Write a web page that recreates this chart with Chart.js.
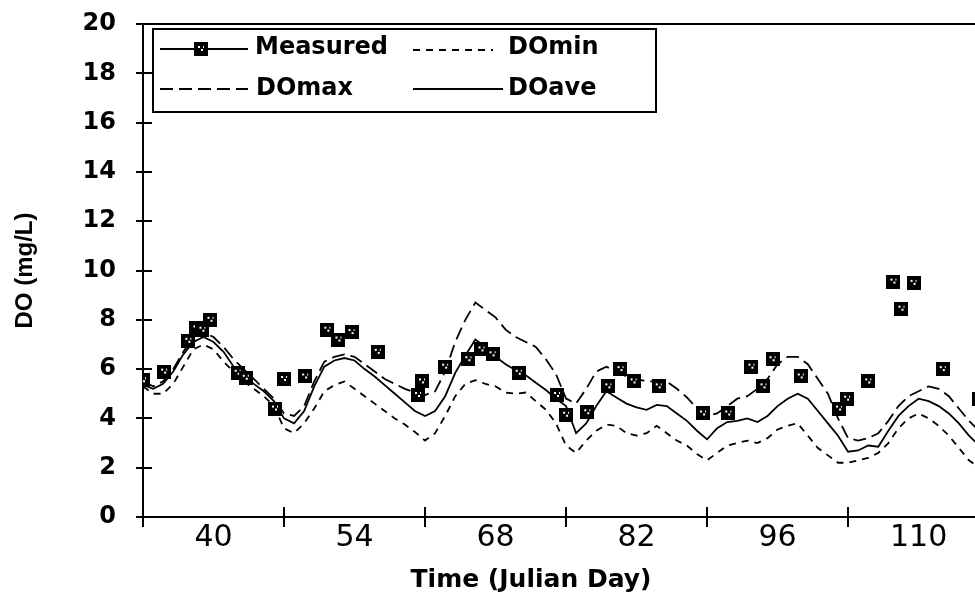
<!DOCTYPE html>
<html>
<head>
<meta charset="utf-8">
<script src="https://cdn.jsdelivr.net/npm/chart.js@4.4.1/dist/chart.umd.min.js"></script>
<style>
  html, body { margin: 0; padding: 0; background: #fff; }
  canvas { display: block; }
</style>
</head>
<body>
<canvas id="doChart" width="975" height="596"></canvas>
<script>
// Julian days of the simulated curves
const days = [33,34,35,36,37,38,39,40,41,42,43,44,45,46,47,48,49,50,51,52,53,54,55,56,57,58,59,60,
  61,62,63,64,65,66,67,68,69,70,71,72,73,74,75,76,77,78,79,80,81,82,83,84,85,86,87,88,89,90,
  91,92,93,94,95,96,97,98,99,100,101,102,103,104,105,106,107,108,109,110,111,112,113,114,115,116];

const doAve = [5.35,5.2,5.4,5.9,6.6,7.1,7.3,7.1,6.7,6.1,
  5.7,5.4,5.1,4.7,4.0,3.8,4.3,5.3,6.1,6.35,
  6.45,6.35,6.0,5.7,5.35,5.0,4.65,4.3,4.1,4.3,
  4.9,5.85,6.55,7.2,6.9,6.5,6.2,5.95,5.75,5.45,
  5.15,4.8,4.5,3.4,3.8,4.5,5.1,4.85,4.6,4.45,
  4.35,4.55,4.5,4.2,3.9,3.5,3.15,3.6,3.85,3.9,
  4.0,3.85,4.1,4.5,4.8,5.0,4.8,4.3,3.8,3.3,
  2.65,2.7,2.9,2.85,3.5,4.1,4.5,4.8,4.7,4.5,
  4.2,3.8,3.3,2.9];

const doMax = [5.5,5.3,5.5,6.0,6.7,7.3,7.5,7.3,6.9,6.4,
  6.0,5.6,5.2,4.8,4.2,4.1,4.5,5.5,6.3,6.5,
  6.6,6.5,6.2,5.9,5.6,5.4,5.2,5.05,4.95,5.1,
  5.9,7.1,8.0,8.7,8.4,8.1,7.6,7.3,7.1,6.9,
  6.4,5.8,4.8,4.6,5.2,5.9,6.1,5.9,5.7,5.6,
  5.5,5.5,5.5,5.2,4.85,4.4,4.1,4.2,4.5,4.8,
  4.9,5.2,5.6,6.2,6.5,6.5,6.2,5.6,5.0,4.0,
  3.2,3.1,3.2,3.4,3.9,4.5,4.9,5.1,5.3,5.2,
  4.9,4.4,3.9,3.5];

const doMin = [5.3,5.0,5.0,5.4,6.1,6.8,7.0,6.8,6.3,5.9,
  5.5,5.2,4.9,4.5,3.6,3.4,3.8,4.4,5.1,5.35,
  5.5,5.2,4.9,4.6,4.3,4.0,3.75,3.45,3.1,3.4,
  4.1,4.9,5.4,5.55,5.4,5.3,5.05,5.0,5.05,4.7,
  4.35,3.8,2.9,2.6,3.1,3.5,3.75,3.7,3.4,3.3,
  3.4,3.7,3.4,3.1,2.9,2.55,2.3,2.6,2.9,3.0,
  3.1,3.0,3.2,3.55,3.7,3.8,3.3,2.8,2.5,2.2,
  2.2,2.3,2.4,2.6,3.0,3.6,4.0,4.2,4.0,3.7,
  3.3,2.8,2.3,2.0];

// field measurements
const measuredDays = [33,35.1,37.5,38.3,38.9,39.7,42.4,43.2,46.1,47,49.1,51.3,52.4,53.7,56.3,
  60.3,60.7,63,65.3,66.6,67.7,70.3,74.1,75,77.1,79.2,80.4,81.7,84.2,88.6,91.1,93.4,94.6,
  95.5,98.3,102.1,102.9,105,107.5,108.3,109.5,112.4,116];
const measuredDO = [5.55,5.9,7.15,7.65,7.6,8.0,5.85,5.65,4.4,5.6,5.7,7.6,7.2,7.5,6.7,
  4.95,5.5,6.1,6.4,6.8,6.6,5.85,4.95,4.15,4.25,5.3,6.0,5.5,5.3,4.2,4.2,6.1,5.3,
  6.4,5.7,4.4,4.8,5.5,9.55,8.45,9.5,6.0,4.8];

const xLabelDays = [40, 54, 68, 82, 96, 110];
const xTickDays = [33, 47, 61, 75, 89, 103];
const yTickValues = [0, 2, 4, 6, 8, 10, 12, 14, 16, 18, 20];

const seriesNames = ['Measured', 'DOmin', 'DOmax', 'DOave'];

// square marker with a few white specks
const marker = document.createElement('canvas');
marker.width = 14; marker.height = 14;
(function () {
  const m = marker.getContext('2d');
  m.fillStyle = '#000';
  m.fillRect(0, 0, 14, 14);
  m.fillStyle = '#fff';
  m.fillRect(4, 4, 2, 2);
  m.fillRect(7, 7, 2, 2);
  m.fillRect(9, 4, 1, 2);
})();

function pts(xs, ys) {
  return xs.map(function (d, i) { return { x: d, y: ys[i] }; });
}

const extras = {
  id: 'extras',
  afterDraw(chart) {
    const ctx = chart.ctx;
    const area = chart.chartArea;
    const xs = chart.scales.x, ys = chart.scales.y;
    ctx.save();
    ctx.strokeStyle = '#000';
    ctx.lineWidth = 2;
    ctx.beginPath();
    yTickValues.forEach(function (v) {
      const py = Math.round(ys.getPixelForValue(v));
      ctx.moveTo(area.left - 7, py);
      ctx.lineTo(area.left + 9, py);
    });
    xTickDays.forEach(function (d) {
      const px = Math.round(xs.getPixelForValue(d));
      ctx.moveTo(px, area.bottom - 10);
      ctx.lineTo(px, area.bottom + 10);
    });
    // top frame of plot area
    ctx.moveTo(area.left, area.top);
    ctx.lineTo(area.right, area.top);
    ctx.stroke();

    // legend box
    ctx.fillStyle = '#fff';
    ctx.fillRect(153, 29, 503, 83);
    ctx.lineWidth = 2;
    ctx.strokeRect(153, 29, 503, 83);

    ctx.lineWidth = 1.8;
    function sample(x1, x2, y, dash) {
      ctx.setLineDash(dash);
      ctx.beginPath();
      ctx.moveTo(x1, y);
      ctx.lineTo(x2, y);
      ctx.stroke();
      ctx.setLineDash([]);
    }
    sample(160, 248, 49, []);
    ctx.drawImage(marker, 194, 42);
    sample(413, 493, 50, [7, 6]);
    sample(160, 248, 89, [13, 6]);
    sample(413, 503, 89, []);

    ctx.fillStyle = '#000';
    ctx.font = 'bold 24px "DejaVu Sans"';
    ctx.textBaseline = 'middle';
    ctx.textAlign = 'left';
    ctx.fillText(seriesNames[0], 255, 48);
    ctx.fillText(seriesNames[1], 508, 48);
    ctx.fillText(seriesNames[2], 256, 89);
    ctx.fillText(seriesNames[3], 508, 89);

    // x axis title
    ctx.textAlign = 'center';
    ctx.font = 'bold 25px "DejaVu Sans"';
    ctx.fillText('Time (Julian Day)', 531, 580);
    ctx.restore();
  }
};

const chart = new Chart(document.getElementById('doChart'), {
  type: 'line',
  data: {
    datasets: [
      {
        label: seriesNames[0],
        data: pts(measuredDays, measuredDO),
        showLine: false,
        pointStyle: marker,
        pointRadius: 7,
        pointHoverRadius: 7
      },
      {
        label: seriesNames[1],
        data: pts(days, doMin),
        borderColor: '#000',
        borderWidth: 1.8,
        borderDash: [7, 6],
        pointRadius: 0,
        tension: 0
      },
      {
        label: seriesNames[2],
        data: pts(days, doMax),
        borderColor: '#000',
        borderWidth: 1.8,
        borderDash: [13, 6],
        pointRadius: 0,
        tension: 0
      },
      {
        label: seriesNames[3],
        data: pts(days, doAve),
        borderColor: '#000',
        borderWidth: 1.8,
        pointRadius: 0,
        tension: 0
      }
    ]
  },
  options: {
    responsive: false,
    animation: false,
    events: [],
    layout: { autoPadding: false, padding: { top: 24, right: 0, bottom: 0, left: 0 } },
    plugins: {
      legend: { display: false },
      tooltip: { enabled: false }
    },
    scales: {
      x: {
        type: 'linear',
        min: 33,
        max: 115.6,
        afterBuildTicks: function (scale) {
          scale.ticks = xLabelDays.map(function (v) { return { value: v }; });
        },
        afterFit: function (scale) {
          scale.height = 79;
          scale.paddingLeft = 0;
          scale.paddingRight = 0;
        },
        border: { display: true, color: '#000', width: 2 },
        grid: { display: true, drawOnChartArea: false, drawTicks: false },
        ticks: {
          autoSkip: false,
          maxRotation: 0,
          padding: 6,
          color: '#000',
          font: { family: '"DejaVu Sans"', size: 30, lineHeight: 1 }
        }
      },
      y: {
        min: 0,
        max: 20,
        afterBuildTicks: function (scale) {
          scale.ticks = yTickValues.map(function (v) { return { value: v }; });
        },
        afterFit: function (scale) {
          scale.width = 143;
          scale.paddingTop = 0;
          scale.paddingBottom = 0;
        },
        border: { display: true, color: '#000', width: 2 },
        grid: { display: true, drawOnChartArea: false, drawTicks: false },
        ticks: {
          padding: 27,
          color: '#000',
          font: { family: '"DejaVu Sans"', size: 24, weight: 'bold' }
        },
        title: {
          display: true,
          text: 'DO (mg/L)',
          color: '#000',
          padding: { top: 11, bottom: 0 },
          font: { family: '"Liberation Sans"', size: 24, weight: 'bold' }
        }
      }
    }
  },
  plugins: [extras]
});
</script>
</body>
</html>
